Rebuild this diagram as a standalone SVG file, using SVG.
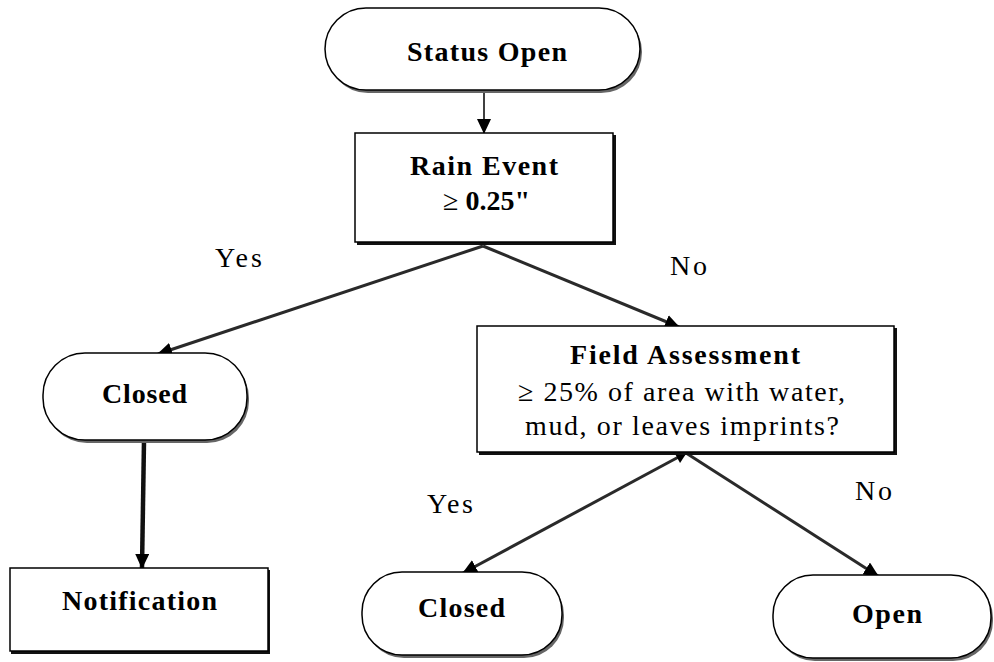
<svg xmlns="http://www.w3.org/2000/svg" width="994" height="662" viewBox="0 0 994 662">
<style>
.bg{fill:#fff}
.shape{fill:#fff;stroke:#000;stroke-width:1.5}
.shd{fill:#666}
.shdk{fill:#111}
.lbl{font-family:"Liberation Serif","Times New Roman",serif;font-weight:bold;font-size:28px;fill:#000}
.txt{font-family:"Liberation Serif","Times New Roman",serif;font-size:28px;fill:#000}
.edge{fill:none;stroke:#2a2a2a;stroke-width:3}
.thin{fill:none;stroke:#000;stroke-width:1.5}
.thick{fill:none;stroke:#111;stroke-width:4.5}
</style>
<defs>
<marker id="ah" markerUnits="userSpaceOnUse" markerWidth="16" markerHeight="14" refX="14" refY="7" orient="auto">
<path d="M0,0 L15,7 L0,14 Z" fill="#000"/>
</marker>
<marker id="as" markerUnits="userSpaceOnUse" markerWidth="12" markerHeight="12" refX="1" refY="6" orient="auto">
<path d="M11,0 L0,6 L11,12 Z" fill="#000"/>
</marker>
</defs>
<rect class="bg" x="0" y="0" width="994" height="662"/>

<g id="connectors">
<line class="thin" x1="484" y1="90" x2="484" y2="133" marker-end="url(#ah)"/>
<line class="edge" x1="483" y1="246" x2="158" y2="354" marker-end="url(#ah)"/>
<line class="edge" x1="483" y1="246" x2="679" y2="327" marker-end="url(#ah)"/>
<line class="thick" x1="144" y1="441" x2="142" y2="568" marker-end="url(#ah)"/>
<line class="edge" x1="686" y1="453" x2="463" y2="573" marker-start="url(#as)" marker-end="url(#ah)"/>
<line class="edge" x1="686" y1="453" x2="878" y2="576" marker-end="url(#ah)"/>
</g>

<g id="status-open">
<rect class="shd" x="327" y="11" width="315" height="82" rx="41" ry="41"/>
<rect class="shape" x="325" y="8" width="315" height="82" rx="41" ry="41"/>
<text class="lbl" x="407" y="61" textLength="160" lengthAdjust="spacing">Status Open</text>
</g>

<g id="rain-event">
<rect class="shdk" x="357" y="135" width="259" height="110"/>
<rect class="shape" x="355" y="133" width="258" height="109"/>
<text class="lbl" x="410" y="175" textLength="148" lengthAdjust="spacing">Rain Event</text>
<text class="lbl" x="443" y="210" textLength="87" lengthAdjust="spacing"><tspan font-weight="normal">≥</tspan> 0.25"</text>
</g>

<g id="closed-left">
<rect class="shd" x="45" y="356" width="204" height="87" rx="42" ry="42"/>
<rect class="shape" x="43" y="353" width="204" height="87" rx="42" ry="42"/>
<text class="lbl" x="102" y="403" textLength="85" lengthAdjust="spacing">Closed</text>
</g>

<g id="notification">
<rect class="shdk" x="11" y="570" width="259" height="84"/>
<rect class="shape" x="10" y="568" width="258" height="83"/>
<text class="lbl" x="62" y="610" textLength="155" lengthAdjust="spacing">Notification</text>
</g>

<g id="field-assessment">
<rect class="shdk" x="479" y="328" width="418" height="127"/>
<rect class="shape" x="477" y="326" width="417" height="126"/>
<text class="lbl" x="570" y="364" textLength="230" lengthAdjust="spacing">Field Assessment</text>
<text class="txt" x="518" y="401" textLength="327" lengthAdjust="spacing">≥ 25% of area with water,</text>
<text class="txt" x="525" y="435" textLength="314" lengthAdjust="spacing">mud, or leaves imprints?</text>
</g>

<g id="closed-right">
<rect class="shd" x="364" y="575" width="200" height="83" rx="40" ry="40"/>
<rect class="shape" x="362" y="572" width="200" height="83" rx="40" ry="40"/>
<text class="lbl" x="418" y="617" textLength="87" lengthAdjust="spacing">Closed</text>
</g>

<g id="open">
<rect class="shd" x="775" y="578" width="218" height="83" rx="40" ry="40"/>
<rect class="shape" x="773" y="575" width="218" height="83" rx="40" ry="40"/>
<text class="lbl" x="852" y="623" textLength="70" lengthAdjust="spacing">Open</text>
</g>

<g id="edge-labels">
<text class="txt" x="215" y="267" textLength="47" lengthAdjust="spacing">Yes</text>
<text class="txt" x="670" y="275" textLength="37" lengthAdjust="spacing">No</text>
<text class="txt" x="427" y="513" textLength="46" lengthAdjust="spacing">Yes</text>
<text class="txt" x="855" y="500" textLength="37" lengthAdjust="spacing">No</text>
</g>
</svg>
